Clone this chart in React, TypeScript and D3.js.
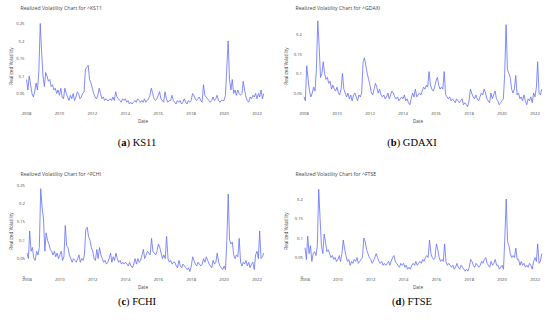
import React from 'react'
import * as d3 from 'd3'

// monthly realized volatility, Jan 2008 .. Jun 2022
const KS11 = [
  0.09, 0.06, 0.10, 0.075, 0.05, 0.04, 0.055, 0.08, 0.06, 0.115, 0.25, 0.17,
  0.10, 0.07, 0.11, 0.10, 0.085, 0.09, 0.07, 0.075, 0.06, 0.065, 0.05, 0.06,
  0.045, 0.065, 0.04, 0.035, 0.065, 0.05, 0.04, 0.03, 0.045, 0.035, 0.05, 0.03,
  0.04, 0.055, 0.05, 0.035, 0.04, 0.05, 0.055, 0.12, 0.125, 0.13, 0.09, 0.08,
  0.065, 0.05, 0.04, 0.035, 0.045, 0.065, 0.05, 0.035, 0.04, 0.03, 0.035, 0.03,
  0.03, 0.035, 0.03, 0.04, 0.03, 0.055, 0.04, 0.035, 0.03, 0.025, 0.035, 0.03,
  0.035, 0.025, 0.03, 0.02, 0.025, 0.02, 0.025, 0.03, 0.025, 0.035, 0.03, 0.025,
  0.03, 0.025, 0.035, 0.025, 0.03, 0.035, 0.045, 0.065, 0.05, 0.035, 0.03, 0.035,
  0.045, 0.055, 0.035, 0.03, 0.025, 0.055, 0.035, 0.025, 0.03, 0.03, 0.045, 0.03,
  0.025, 0.02, 0.03, 0.025, 0.03, 0.02, 0.025, 0.035, 0.025, 0.02, 0.03, 0.025,
  0.03, 0.05, 0.045, 0.035, 0.03, 0.035, 0.04, 0.03, 0.025, 0.075, 0.045, 0.04,
  0.035, 0.03, 0.025, 0.03, 0.04, 0.03, 0.035, 0.045, 0.03, 0.025, 0.03, 0.03,
  0.03, 0.045, 0.12, 0.2, 0.09, 0.06, 0.09, 0.05, 0.06, 0.045, 0.06, 0.05,
  0.045, 0.05, 0.085, 0.06, 0.04, 0.03, 0.025, 0.04, 0.035, 0.045, 0.04, 0.05,
  0.035, 0.05, 0.04, 0.06, 0.035, 0.05,
]

const GDAXI = [
  0.04, 0.03, 0.12, 0.085, 0.055, 0.04, 0.05, 0.065, 0.055, 0.11, 0.235, 0.17,
  0.09, 0.10, 0.13, 0.10, 0.085, 0.09, 0.075, 0.08, 0.06, 0.07, 0.06, 0.055,
  0.065, 0.05, 0.045, 0.06, 0.10, 0.06, 0.05, 0.04, 0.05, 0.035, 0.045, 0.03,
  0.045, 0.05, 0.04, 0.03, 0.045, 0.04, 0.05, 0.13, 0.14, 0.12, 0.10, 0.085,
  0.07, 0.05, 0.045, 0.06, 0.075, 0.065, 0.05, 0.06, 0.045, 0.04, 0.045, 0.035,
  0.04, 0.05, 0.035, 0.045, 0.055, 0.05, 0.04, 0.035, 0.04, 0.03, 0.035, 0.04,
  0.035, 0.045, 0.03, 0.035, 0.025, 0.02, 0.035, 0.05, 0.04, 0.06, 0.04, 0.045,
  0.05, 0.045, 0.055, 0.065, 0.06, 0.07, 0.065, 0.105, 0.07, 0.06, 0.055, 0.065,
  0.08, 0.09, 0.07, 0.06, 0.065, 0.06, 0.105, 0.045, 0.04, 0.035, 0.04, 0.03,
  0.035, 0.03, 0.025, 0.035, 0.03, 0.025, 0.03, 0.035, 0.02, 0.025, 0.02, 0.015,
  0.03, 0.06, 0.05, 0.04, 0.035, 0.045, 0.035, 0.03, 0.04, 0.05, 0.045, 0.06,
  0.05, 0.035, 0.03, 0.025, 0.05, 0.035, 0.045, 0.055, 0.035, 0.03, 0.02, 0.025,
  0.03, 0.035, 0.10, 0.225, 0.11, 0.10, 0.09, 0.06, 0.05, 0.06, 0.095, 0.045,
  0.05, 0.035, 0.04, 0.03, 0.045, 0.03, 0.02, 0.035, 0.03, 0.04, 0.025, 0.05,
  0.04, 0.065, 0.13, 0.05, 0.045, 0.06,
]

const FCHI = [
  0.065, 0.05, 0.125, 0.07, 0.08, 0.05, 0.045, 0.07, 0.06, 0.08, 0.24, 0.19,
  0.16, 0.07, 0.12, 0.10, 0.09, 0.075, 0.07, 0.06, 0.07, 0.055, 0.065, 0.05,
  0.06, 0.07, 0.045, 0.055, 0.14, 0.085, 0.08, 0.06, 0.05, 0.04, 0.05, 0.045,
  0.04, 0.05, 0.06, 0.04, 0.05, 0.045, 0.06, 0.13, 0.135, 0.11, 0.10, 0.08,
  0.07, 0.05, 0.045, 0.075, 0.05, 0.08, 0.06, 0.05, 0.04, 0.045, 0.035, 0.04,
  0.05, 0.065, 0.04, 0.055, 0.045, 0.065, 0.05, 0.04, 0.045, 0.035, 0.04, 0.035,
  0.04, 0.035, 0.03, 0.04, 0.03, 0.025, 0.035, 0.05, 0.035, 0.05, 0.04, 0.045,
  0.06, 0.075, 0.05, 0.06, 0.07, 0.065, 0.06, 0.105, 0.07, 0.065, 0.06, 0.07,
  0.09, 0.08, 0.065, 0.05, 0.06, 0.05, 0.11, 0.05, 0.04, 0.045, 0.035, 0.04,
  0.04, 0.03, 0.025, 0.045, 0.03, 0.025, 0.035, 0.03, 0.025, 0.02, 0.025, 0.015,
  0.03, 0.055, 0.045, 0.035, 0.03, 0.04, 0.035, 0.03, 0.035, 0.05, 0.04, 0.055,
  0.045, 0.035, 0.03, 0.025, 0.045, 0.035, 0.04, 0.065, 0.04, 0.03, 0.025, 0.02,
  0.03, 0.02, 0.10, 0.225, 0.10, 0.09, 0.095, 0.06, 0.05, 0.06, 0.055, 0.105,
  0.04, 0.03, 0.04, 0.035, 0.045, 0.03, 0.04, 0.025, 0.035, 0.04, 0.02, 0.06,
  0.07, 0.05, 0.125, 0.05, 0.055, 0.065,
]

const FTSE = [
  0.075, 0.045, 0.105, 0.06, 0.08, 0.04, 0.06, 0.065, 0.055, 0.08, 0.225, 0.15,
  0.08, 0.06, 0.11, 0.09, 0.065, 0.07, 0.06, 0.05, 0.055, 0.045, 0.05, 0.04,
  0.045, 0.055, 0.04, 0.06, 0.095, 0.07, 0.055, 0.04, 0.045, 0.03, 0.04, 0.035,
  0.045, 0.04, 0.05, 0.035, 0.04, 0.045, 0.05, 0.10, 0.09, 0.07, 0.06, 0.05,
  0.045, 0.035, 0.04, 0.05, 0.06, 0.05, 0.04, 0.035, 0.04, 0.03, 0.035, 0.03,
  0.035, 0.04, 0.03, 0.04, 0.05, 0.055, 0.04, 0.035, 0.03, 0.025, 0.035, 0.03,
  0.035, 0.025, 0.03, 0.02, 0.025, 0.02, 0.03, 0.035, 0.03, 0.04, 0.03, 0.035,
  0.04, 0.035, 0.045, 0.04, 0.05, 0.055, 0.05, 0.095, 0.06, 0.05, 0.045, 0.05,
  0.085, 0.07, 0.05, 0.04, 0.045, 0.04, 0.085, 0.04, 0.03, 0.035, 0.03, 0.025,
  0.03, 0.02, 0.025, 0.035, 0.025, 0.02, 0.03, 0.025, 0.02, 0.015, 0.02, 0.015,
  0.025, 0.045, 0.04, 0.03, 0.025, 0.035, 0.03, 0.025, 0.03, 0.04, 0.035, 0.045,
  0.05, 0.035, 0.03, 0.025, 0.04, 0.03, 0.035, 0.045, 0.03, 0.03, 0.02, 0.025,
  0.03, 0.02, 0.10, 0.20, 0.09, 0.08, 0.06, 0.05, 0.055, 0.05, 0.074, 0.045,
  0.045, 0.03, 0.04, 0.03, 0.035, 0.025, 0.03, 0.025, 0.035, 0.03, 0.02, 0.04,
  0.05, 0.04, 0.085, 0.035, 0.04, 0.06,
]

const MONTHS = d3.timeMonth.range(new Date(2008, 0, 1), new Date(2022, 6, 1))
const YEAR_TICKS = [2008, 2010, 2012, 2014, 2016, 2018, 2020, 2022]
const TICKS_A = [0.05, 0.1, 0.15, 0.2, 0.25]
const TICKS_B = [0.05, 0.1, 0.15, 0.2]
const TICKS_C = [0, 0.05, 0.1, 0.15, 0.2, 0.25]
const TICKS_D = [0, 0.05, 0.1, 0.15, 0.2]

const LINE = '#636efa'
const INK = '#444'

// layout: pixel positions of year 2008/2022 and value 0 / 0.2
const PANELS = [
  { name: 'KS11', letter: 'a', values: KS11, ticks: TICKS_A, ox: 0, x08: 26.5, x22: 257, y0: 111, y20: 41, top: 0 },
  { name: 'GDAXI', letter: 'b', values: GDAXI, ticks: TICKS_B, ox: 275, x08: 304, x22: 535, y0: 112.5, y20: 34.5, top: 0 },
  { name: 'FCHI', letter: 'c', values: FCHI, ticks: TICKS_C, ox: 0, x08: 27, x22: 257, y0: 277, y20: 203.4, top: 166 },
  { name: 'FTSE', letter: 'd', values: FTSE, ticks: TICKS_D, ox: 275, x08: 305, x22: 535, y0: 277, y20: 199, top: 166 },
]

function Panel({ p }) {
  const x = d3.scaleTime().domain([new Date(2008, 0, 1), new Date(2022, 0, 1)]).range([p.x08, p.x22])
  const y = d3.scaleLinear().domain([0, 0.2]).range([p.y0, p.y20])
  const line = d3.line<number>().x((_, i) => x(MONTHS[i])).y((d) => y(d))
  const axisY = p.top + (p.top ? 114.5 : 114.5) + (p.top ? 0 : 0)
  const xLabY = p.top ? 280.5 : 114.5
  const dateY = p.top ? 289 : 122.5
  const titleY = p.top + 9.5
  const midX = p.ox + 145
  const yLabCenter = p.top ? 231 : 66
  return (
    <g fontFamily="'Open Sans', sans-serif" fill={INK}>
      <text x={p.ox + 20.5} y={titleY} fontSize={5.2}>{`Realized Volatility Chart for ^${p.name}`}</text>
      {p.ticks.map((t) => (
        <text key={t} x={p.x08 - 2} y={y(t)} fontSize={4.2} textAnchor="end" dominantBaseline="central">
          {t === 0 ? '0' : d3.format('~g')(t)}
        </text>
      ))}
      {YEAR_TICKS.map((yr) => (
        <text key={yr} x={x(new Date(yr, 0, 1))} y={xLabY} fontSize={4.2} textAnchor="middle">{yr}</text>
      ))}
      <text x={midX - 2} y={dateY} fontSize={4.6} textAnchor="middle">Date</text>
      <text transform={`translate(${p.ox + 13},${yLabCenter}) rotate(-90)`} fontSize={4.6} textAnchor="middle">
        Realized Volatility
      </text>
      <path d={line(p.values) || ''} fill="none" stroke={LINE} strokeWidth={0.8} strokeLinejoin="round" />
      <text x={p.ox + 137} y={p.top ? 305 : 146} fontSize={10.5} textAnchor="middle" fill="#000"
        fontFamily="'Liberation Serif', serif">
        (<tspan fontWeight="bold">{p.letter}</tspan>) {p.name}
      </text>
    </g>
  )
}

export default function App() {
  return (
    <svg width={550} height={322} style={{ position: 'absolute', left: 0, top: 0, background: '#fff' }}>
      {PANELS.map((p) => <Panel key={p.name} p={p} />)}
    </svg>
  )
}
